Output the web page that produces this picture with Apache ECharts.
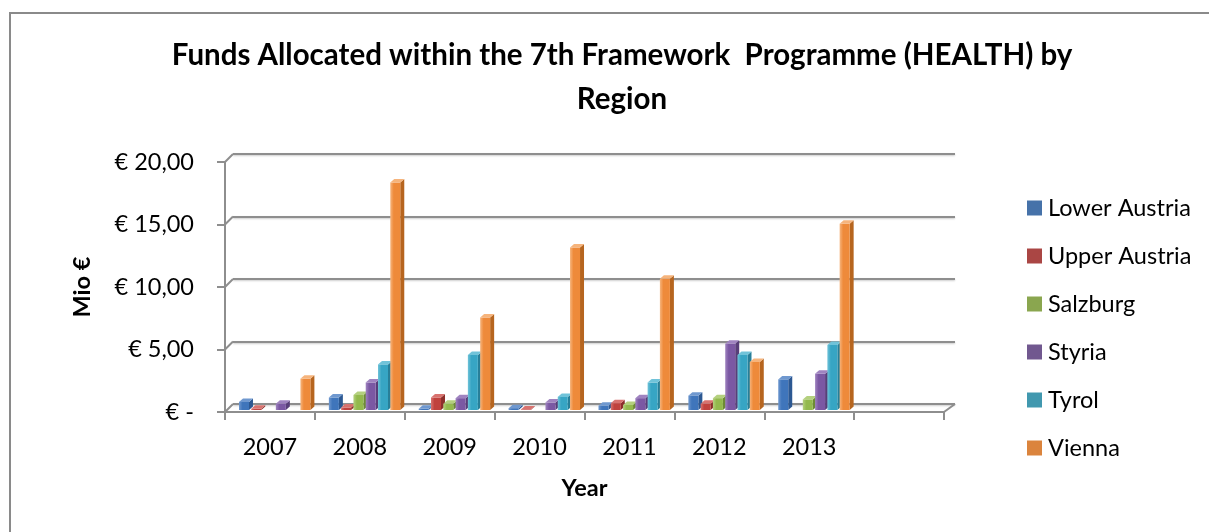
<!DOCTYPE html>
<html>
<head>
<meta charset="utf-8">
<script src="https://cdn.jsdelivr.net/npm/echarts@6/dist/echarts.min.js"></script>
<style>
    html, body { margin: 0; padding: 0; background: #fff; }
    #chart { width: 1209px; height: 532px; }
</style>
</head>
<body>
<div id="chart"></div>
<script>
// values in Mio €
const years = ['2007', '2008', '2009', '2010', '2011', '2012', '2013'];
const regions = ['Lower Austria', 'Upper Austria', 'Salzburg', 'Styria', 'Tyrol', 'Vienna'];
const lowerAustria = [0.65, 1.0, 0.1, 0.15, 0.35, 1.15, 2.45];
const upperAustria = [0.1, 0.2, 1.0, 0.05, 0.55, 0.5, 0];
const salzburg = [0, 1.2, 0.5, 0, 0.4, 0.95, 0.85];
const styria = [0.5, 2.2, 0.95, 0.6, 0.95, 5.3, 2.9];
const tyrol = [0, 3.65, 4.4, 1.05, 2.2, 4.4, 5.2];
const vienna = [2.5, 18.2, 7.4, 13.0, 10.5, 3.85, 14.9];
const yTicks = [0, 5, 10, 15, 20];

const regionValues = [lowerAustria, upperAustria, salzburg, styria, tyrol, vienna];

// legend colour, then front / top / side of the 3d bar
const legendColors = ['#4672a9', '#aa4644', '#8aa64f', '#71588f', '#4198af', '#db843d'];
const faces = [
    ['#3f75bb', '#6f98cf', '#2c5892'],
    ['#c0423e', '#d8726f', '#8c2e2b'],
    ['#93b94d', '#b4d07e', '#6d8a35'],
    ['#7b58a3', '#9f83c0', '#583e79'],
    ['#37a5c4', '#70c3d9', '#277f99'],
    ['#ee8a3a', '#f6b47c', '#b6651f'],
];

const gridLine = { color: '#8e8e8e', width: 2, shadowColor: 'rgba(0,0,0,0.2)', shadowBlur: 2, shadowOffsetY: 1 };
const labelFont = { fontFamily: 'Lato', fontSize: 23.5, color: '#000' };
const DEPTH_X = 8, DEPTH_Y = 8;

const renderBar = (params, api) => {
    const cat = api.value(0), val = api.value(1), r = api.value(2);
    if (!val) return null;
    const bw = api.size([1, 0])[0];
    const c = api.coord([cat, val]);
    const base = api.coord([cat, 0])[1] - 2;
    const top = c[1] - 2;
    const x = c[0] - bw / 2 + bw * 14 / 90 + r * bw * 12.3 / 90;
    const w = 10, dx = 4, dy = 3.5;
    const f = faces[r];
    return {
        type: 'group',
        children: [
            { type: 'polygon', shape: { points: [[x + w, top], [x + w + dx, top - dy], [x + w + dx, base - dy], [x + w, base]] }, style: { fill: f[2] } },
            { type: 'rect', shape: { x: x, y: top, width: w, height: base - top },
              style: { fill: new echarts.graphic.LinearGradient(0, 0, 1, 0, [{ offset: 0, color: f[1] }, { offset: 0.35, color: f[0] }, { offset: 1, color: f[0] }]) } },
            { type: 'polygon', shape: { points: [[x, top], [x + dx, top - dy], [x + w + dx, top - dy], [x + w, top]] }, style: { fill: f[1] } },
        ]
    };
};

// diagonal joining a front tick to its back wall line
const renderWall = (params, api) => {
    const bw = api.size([1, 0])[0];
    const c = api.coord([api.value(0), api.value(1)]);
    const side = api.value(2);
    const x = side ? c[0] + bw / 2 : c[0] - bw / 2;
    const ddx = side ? 11 : DEPTH_X;
    return {
        type: 'line',
        shape: { x1: x, y1: c[1], x2: x + ddx, y2: c[1] - DEPTH_Y },
        style: { stroke: gridLine.color, lineWidth: 2 }
    };
};

const series = regions.map((name, r) => ({
    name: name,
    type: 'custom',
    xAxisIndex: 0,
    yAxisIndex: 0,
    renderItem: renderBar,
    itemStyle: { color: legendColors[r] },
    encode: { x: 0, y: 1 },
    data: years.map((y, i) => [i, regionValues[r][i], r]),
    z: 3,
}));

series.push({
    name: 'wall',
    type: 'custom',
    xAxisIndex: 0,
    yAxisIndex: 0,
    renderItem: renderWall,
    encode: { x: 0, y: 1 },
    data: yTicks.map(v => [0, v, 0]).concat([[years.length, 0, 1]]),
    silent: true,
    z: 1,
});

const option = {
    animation: false,
    title: {
        text: 'Funds Allocated within the 7th Framework  Programme (HEALTH) by\nRegion',
        left: 617,
        textAlign: 'center',
        top: 28,
        textStyle: { fontFamily: 'Lato', fontSize: 29.5, fontWeight: 'bold', color: '#000', lineHeight: 44 },
    },
    legend: {
        data: regions,
        orient: 'vertical',
        left: 1022,
        top: 191,
        icon: 'rect',
        itemWidth: 15,
        itemHeight: 15,
        itemGap: 24,
        textStyle: { ...labelFont, lineHeight: 24, padding: [0, 0, 0, 1] },
    },
    graphic: [{
        type: 'rect',
        shape: { x: 10, y: 13, width: 1400, height: 800 },
        style: { fill: 'none', stroke: '#8a8a8a', lineWidth: 2 },
        silent: true,
    }],
    grid: [
        { left: 225, top: 162, width: 719, height: 250 },
        { left: 233, top: 154, width: 722, height: 250 },
    ],
    xAxis: [
        {
            gridIndex: 0,
            type: 'category',
            data: years.concat(['']),
            boundaryGap: true,
            axisLine: { lineStyle: { color: '#8e8e8e', width: 2 } },
            axisTick: { show: true, interval: 0, length: 8, lineStyle: { color: '#8e8e8e', width: 2 } },
            axisLabel: { ...labelFont, interval: 0, margin: 23 },
            name: 'Year',
            nameLocation: 'middle',
            nameGap: 64,
            nameTextStyle: { ...labelFont, fontWeight: 'bold' },
        },
        { gridIndex: 1, type: 'value', min: 0, max: 1, show: false },
    ],
    yAxis: [
        {
            gridIndex: 0,
            type: 'value',
            min: 0, max: 20, interval: 5,
            axisLine: { show: true, lineStyle: { color: '#8e8e8e', width: 2 } },
            axisTick: { show: true, length: 8, lineStyle: { color: '#8e8e8e', width: 2 } },
            axisLabel: { ...labelFont, margin: 31, formatter: v => v === 0 ? '€ -' : '€ ' + v.toFixed(2).replace('.', ',') },
            splitLine: { show: false },
            name: 'Mio €',
            nameLocation: 'middle',
            nameRotate: 90,
            nameGap: 131,
            nameTextStyle: { ...labelFont, fontWeight: 'bold' },
        },
        {
            gridIndex: 1,
            type: 'value',
            min: 0, max: 20, interval: 5,
            axisLine: { show: false },
            axisTick: { show: false },
            axisLabel: { show: false },
            splitLine: { show: true, lineStyle: gridLine },
        },
    ],
    series: series,
};

const chart = echarts.init(document.getElementById('chart'));
chart.setOption(option);
</script>
</body>
</html>
